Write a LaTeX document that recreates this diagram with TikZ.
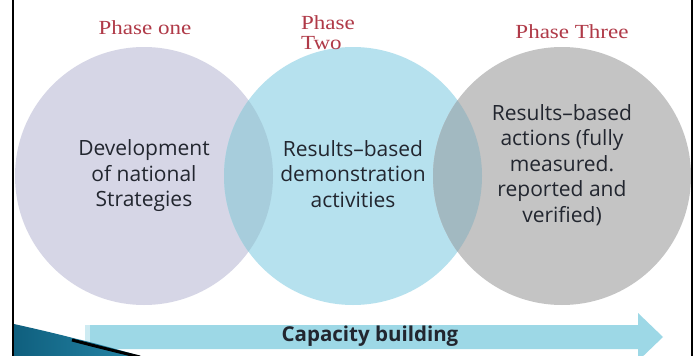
\documentclass[tikz,border=0pt]{standalone}
\usepackage{fontspec}
\setmainfont{Open Sans}
\newfontfamily\phasefont[FakeStretch=1.15]{Liberation Serif}
\usetikzlibrary{arrows,positioning}

\definecolor{lavender}{HTML}{D6D6E6}
\definecolor{skyblue}{HTML}{B6E1EE}
\definecolor{stone}{HTML}{C4C4C4}
\definecolor{blueover}{HTML}{A7CDDC}
\definecolor{greyover}{HTML}{A2B9C1}
\definecolor{bandblue}{HTML}{9DD8E6}
\definecolor{phasered}{HTML}{B03A48}
\definecolor{inktext}{HTML}{22262F}
\definecolor{swooshdark}{HTML}{0F5F7E}
\definecolor{swooshlight}{HTML}{2687A8}

\begin{document}
\begin{tikzpicture}[x=1pt,y=-1pt,node distance=209pt,
    phase/.style={circle, minimum size=258pt, inner sep=0pt, align=center,
        text=inktext, font=\fontsize{21}{25.5}\selectfont},
    phaselabel/.style={text=phasered, font=\phasefont\fontsize{20}{20}\selectfont}]
    \useasboundingbox (0,0) rectangle (694,356);
    \clip (0,0) rectangle (694,356);
    \fill[white] (0,0) rectangle (694,356);

				% the three phases
				\node[phase, fill=lavender]  (one)   at (144,176) {};
				\node[phase, fill=skyblue]   (two)   [right of=one] {};
				\node[phase, fill=stone]     (three) [right of=two] {};

				% where the circles meet
				\begin{scope}
					\clip (one.center) circle (129pt);
					\fill[blueover] (two.center) circle (129pt);
				\end{scope}
				\begin{scope}
					\clip (two.center) circle (129pt);
					\fill[greyover] (three.center) circle (129pt);
				\end{scope}

				\node[phase] (onetext)   at (one.center)   {Development\\of national\\Strategies};
				\node[phase] (twotext)   at ([yshift=2pt]two.center)   {Results--based\\demonstration\\activities};
				\node[phase] (threetext) at ([yshift=11pt]three.center)
					{Results--based\\actions (fully\\measured.\\reported and\\verified)};

				\node[phaselabel]             (ponelbl)   at (145,28)  {Phase one};
				\node[phaselabel, align=left] (ptwolbl)   at (328,33)  {Phase\\Two};
				\node[phaselabel]             (pthreelbl) at (572,32)  {Phase Three};

				% capacity building band
				\coordinate (bandstart) at (85,337);
				\coordinate (bandtip)   at (663,337);
				\fill[bandblue] (bandstart) ++(0,-12) -- (638,325) -- (638,313)
					-- (bandtip) -- (638,361) -- (638,349) -- ++(-553,0) -- cycle;
				\fill[white, opacity=0.5] (85,325) rectangle (90,349);
				\node[text=inktext, font=\bfseries\fontsize{20.5}{20.5}\selectfont]
					(capacity) at (370,336) {Capacity building};

				% corner swoosh
				\shade[left color=swooshdark, right color=swooshlight]
					(14,324) .. controls (50,332) and (100,344) .. (140,356) -- (14,356) -- cycle;
				\draw[white, line width=1pt, opacity=0.6]
					(14,322) .. controls (40,328) and (60,334) .. (80,339);
				\draw[black, line width=3pt]
					(72,340) .. controls (95,346) and (115,351) .. (140,357);

				% frame edges
				\draw[black, line width=2pt] (13,0) -- (13,356);
				\draw[black, line width=2pt] (692,0) -- (692,356);
\end{tikzpicture}
\end{document}
